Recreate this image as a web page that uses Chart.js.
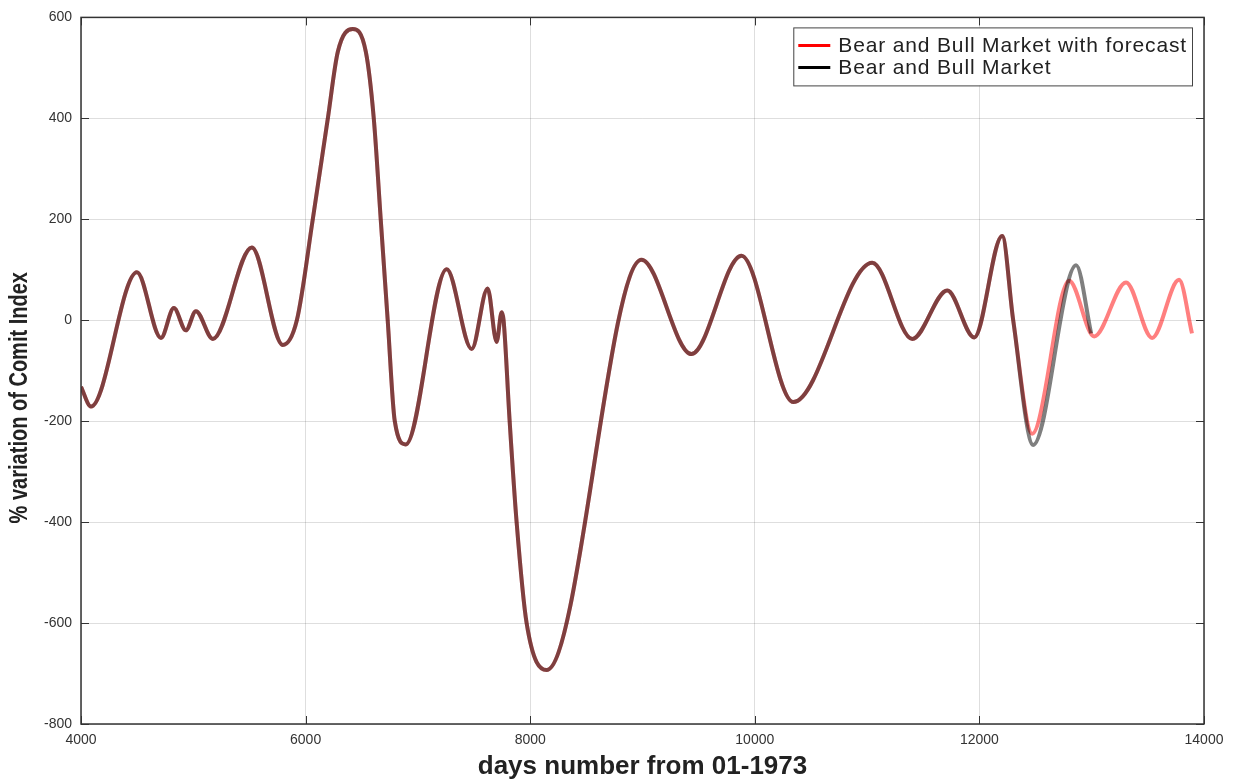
<!DOCTYPE html>
<html>
<head>
<meta charset="utf-8">
<script src="https://cdn.jsdelivr.net/npm/chart.js@4/dist/chart.umd.min.js"></script>
<style>
  html, body { margin: 0; padding: 0; background: #fff; }
  #wrap { width: 1237px; height: 783px; position: relative; }
</style>
</head>
<body>
<div id="wrap"><canvas id="canvas"></canvas></div>
<script>
// common part of both curves (days from 01-1973, % variation)
var commonDays = [4000, 4089, 4498, 4712, 4827, 4934, 5023, 5174, 5521, 5797, 5922, 6064, 6198, 6287, 6420, 6536, 6607, 6669, 6731, 6794, 6892, 7256, 7479, 7621, 7701, 7746, 7763, 7817, 7879, 7968, 8146, 8991, 9436, 9881, 10343, 11046, 11402, 11714, 11954, 12203, 12301];
var commonValues = [-132, -171, 95, -35, 24, -20, 18, -37, 144, -49, 0, 200, 400, 532, 577, 532, 400, 200, 0, -200, -246, 101, -57, 63, -43, 16, 0, -200, -400, -600, -693, 120, -67, 128, -162, 114, -37, 59, -34, 167, 0];

// tail with forecast (red)
var forecastDays = [12470, 12799, 13022, 13306, 13538, 13778, 13893];
var forecastValues = [-225, 78, -32, 75, -35, 80, -26];

// tail of the real market (black)
var marketDays = [12479, 12861, 12995];
var marketValues = [-247, 109, -26];

var seriesNames = ['Bear and Bull Market with forecast', 'Bear and Bull Market'];
var seriesColors = ['#ff0000', '#000000'];

var xTicks = [4000, 6000, 8000, 10000, 12000, 14000];
var yTicks = [-800, -600, -400, -200, 0, 200, 400, 600];

function toPoints(days, values) {
	var pts = [];
	for (var i = 0; i < days.length; i++) {
		pts.push({x: days[i], y: values[i]});
	}
	return pts;
}

var redData = toPoints(commonDays.concat(forecastDays), commonValues.concat(forecastValues));
var blackData = toPoints(commonDays.concat(marketDays), commonValues.concat(marketValues));

// frame, inner tick marks, titles and the boxed legend
var decorPlugin = {
	id: 'decor',
	afterDraw: function(chart) {
		var ctx = chart.ctx;
		var a = chart.chartArea;
		var xs = chart.scales.x, ys = chart.scales.y;
		ctx.save();

		ctx.strokeStyle = '#333';
		ctx.lineWidth = 1;
		ctx.beginPath();
		xTicks.forEach(function(t) {
			var px = Math.round(xs.getPixelForValue(t)) + 0.5;
			ctx.moveTo(px, a.bottom); ctx.lineTo(px, a.bottom - 8);
			ctx.moveTo(px, a.top); ctx.lineTo(px, a.top + 8);
		});
		yTicks.forEach(function(t) {
			var py = Math.round(ys.getPixelForValue(t)) + 0.5;
			ctx.moveTo(a.left, py); ctx.lineTo(a.left + 8, py);
			ctx.moveTo(a.right, py); ctx.lineTo(a.right - 8, py);
		});
		ctx.stroke();

		ctx.lineWidth = 1.5;
		ctx.strokeStyle = '#333';
		ctx.strokeRect(a.left, a.top, a.right - a.left, a.bottom - a.top);

		// axis titles
		ctx.fillStyle = '#222';
		ctx.font = 'bold 26px "Liberation Sans", sans-serif';
		ctx.textAlign = 'center';
		ctx.textBaseline = 'middle';
		ctx.save();
		ctx.translate((a.left + a.right) / 2, 767);
		ctx.fillText('days number from 01-1973', 0, 0);
		ctx.restore();
		ctx.save();
		ctx.translate(20, (a.top + a.bottom) / 2 + 27);
		ctx.rotate(-Math.PI / 2);
		ctx.scale(0.77, 1);
		ctx.fillText('% variation of Comit Index', 0, 0);
		ctx.restore();

		// legend
		ctx.font = '21px "Liberation Sans", sans-serif';
		if ('letterSpacing' in ctx) ctx.letterSpacing = '0.85px';
		var tw = 0;
		seriesNames.forEach(function(n) { tw = Math.max(tw, ctx.measureText(n).width); });
		var w = tw + 50, h = 58;
		var lx = a.right - 12 - w, ly = a.top + 10;
		ctx.fillStyle = '#fff';
		ctx.fillRect(lx, ly, w, h);
		ctx.lineWidth = 1;
		ctx.strokeStyle = '#444';
		ctx.strokeRect(lx + 0.5, ly + 0.5, w, h);
		ctx.textAlign = 'left';
		seriesNames.forEach(function(n, i) {
			var cy = ly + 18 + i * 22;
			ctx.strokeStyle = seriesColors[i];
			ctx.lineWidth = 3;
			ctx.beginPath();
			ctx.moveTo(lx + 5, cy); ctx.lineTo(lx + 37, cy);
			ctx.stroke();
			ctx.fillStyle = '#222';
			ctx.fillText(n, lx + 45, cy + 1);
		});
		ctx.restore();
	}
};

function loadChart() {
	var ctx = document.getElementById('canvas').getContext('2d');
	window.myLine = new Chart(ctx, {
		type: 'line',
		data: {
			datasets: [{
				label: seriesNames[0],
				data: redData,
				borderColor: 'rgba(255,0,0,0.5)',
				borderWidth: 4,
				pointRadius: 0,
				fill: false,
				cubicInterpolationMode: 'monotone',
				order: 1
			}, {
				label: seriesNames[1],
				data: blackData,
				borderColor: 'rgba(0,0,0,0.5)',
				borderWidth: 4,
				pointRadius: 0,
				fill: false,
				cubicInterpolationMode: 'monotone',
				order: 0
			}]
		},
		options: {
			animation: false,
			responsive: true,
			maintainAspectRatio: false,
			layout: { padding: { left: 0, right: 33, top: 15, bottom: 0 } },
			plugins: {
				legend: { display: false },
				tooltip: { enabled: false }
			},
			scales: {
				x: {
					type: 'linear',
					min: 4000,
					max: 14000,
					afterBuildTicks: function(scale) {
						scale.ticks = xTicks.map(function(v) { return {value: v}; });
					},
					afterFit: function(scale) { scale.height = 59; },
					grid: { color: 'rgba(0,0,0,0.13)', drawTicks: false },
					border: { display: false },
					ticks: {
						padding: 8,
						maxRotation: 0,
						color: '#333',
						font: { family: '"Liberation Sans", sans-serif', size: 14 },
						callback: function(v) { return String(v); }
					}
				},
				y: {
					type: 'linear',
					min: -800,
					max: 600,
					afterBuildTicks: function(scale) {
						scale.ticks = yTicks.map(function(v) { return {value: v}; });
					},
					afterFit: function(scale) { scale.width = 81; },
					grid: { color: 'rgba(0,0,0,0.13)', drawTicks: false },
					border: { display: false },
					ticks: {
						padding: 9,
						color: '#333',
						font: { family: '"Liberation Sans", sans-serif', size: 14 },
						callback: function(v) { return String(v); }
					}
				}
			}
		},
		plugins: [decorPlugin]
	});
}
loadChart();
</script>
</body>
</html>
